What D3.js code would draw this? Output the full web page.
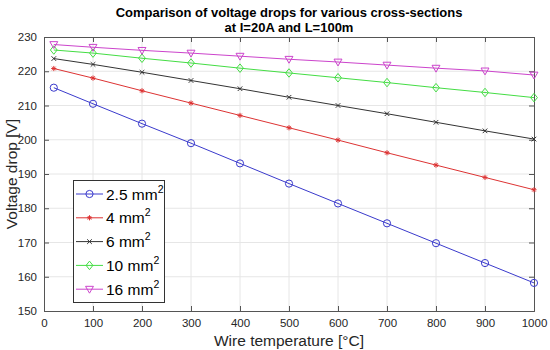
<!DOCTYPE html>
<html><head><meta charset="utf-8">
<script src="https://cdn.jsdelivr.net/npm/d3@7"></script>
<style>body{margin:0;background:#fff}svg{display:block;font-family:"Liberation Sans",Arial,sans-serif}</style>
</head><body><svg id="c" width="550" height="350"></svg>
<script>
const temps = [20,100,200,300,400,500,600,700,800,900,1000];
const s25  = [215.2,210.5,204.7,199.0,193.1,187.2,181.4,175.6,169.8,164.0,158.2];
const s4   = [220.8,218.0,214.3,210.7,207.1,203.5,199.9,196.2,192.6,189.0,185.4];
const s6   = [223.7,222.0,219.7,217.3,214.9,212.4,210.0,207.6,205.1,202.6,200.2];
const s10  = [226.2,225.3,223.8,222.4,220.9,219.5,218.1,216.7,215.2,213.8,212.3];
const s16  = [227.8,227.0,226.1,225.3,224.4,223.5,222.7,221.8,220.9,220.1,218.9];
const seriesNames = ["2.5","4","6","10","16"];
const xTicks = [0,100,200,300,400,500,600,700,800,900,1000];
const yTicks = [150,160,170,180,190,200,210,220,230];
const titleLines = ["Comparison of voltage drops for various cross-sections","at I=20A and L=100m"];

const series = [
  {name:seriesNames[0], vals:s25, color:"#3a3acc", marker:"circle"},
  {name:seriesNames[1], vals:s4,  color:"#dd3333", marker:"star"},
  {name:seriesNames[2], vals:s6,  color:"#333333", marker:"x"},
  {name:seriesNames[3], vals:s10, color:"#44dd44", marker:"diamond"},
  {name:seriesNames[4], vals:s16, color:"#cc44cc", marker:"tri"}
];

const svg = d3.select("#c");
const L=44,R=534,T=37,B=311;
const x = d3.scaleLinear().domain([0,1000]).range([L,R]);
const y = d3.scaleLinear().domain([150,230]).range([B,T]);

// grid
svg.append("g").selectAll("line").data(xTicks.slice(1,-1)).join("line")
  .attr("x1",d=>x(d)).attr("x2",d=>x(d)).attr("y1",T).attr("y2",B)
  .attr("stroke","#e6e6e6").attr("stroke-width",1);
svg.append("g").selectAll("line").data(yTicks.slice(1,-1)).join("line")
  .attr("y1",d=>y(d)).attr("y2",d=>y(d)).attr("x1",L).attr("x2",R)
  .attr("stroke","#e6e6e6").attr("stroke-width",1);

// axes
const axColor="#555";
const fmt = d3.format("d");
const xa = svg.append("g").attr("transform",`translate(0,${B})`)
  .call(d3.axisBottom(x).tickValues(xTicks).tickSize(-5).tickPadding(8).tickFormat(fmt));
const xt = svg.append("g").attr("transform",`translate(0,${T})`)
  .call(d3.axisTop(x).tickValues(xTicks).tickSize(-5).tickFormat(""));
const ya = svg.append("g").attr("transform",`translate(${L},0)`)
  .call(d3.axisLeft(y).tickValues(yTicks).tickSize(-5).tickPadding(7).tickFormat(fmt));
const yr = svg.append("g").attr("transform",`translate(${R},0)`)
  .call(d3.axisRight(y).tickValues(yTicks).tickSize(-5).tickFormat(""));
[xa,xt,ya,yr].forEach(g=>{
  g.select(".domain").attr("stroke",axColor);
  g.selectAll(".tick line").attr("stroke",axColor);
  g.selectAll(".tick text").attr("fill","#262626").attr("font-size",11.5)
   .attr("font-family","Liberation Sans, Arial, sans-serif");
});

function markerPath(type, s){
  switch(type){
    case "circle": return d3.symbol().type(d3.symbolCircle).size(Math.PI*s*s)();
    case "x": return `M${-s},${-s}L${s},${s}M${-s},${s}L${s},${-s}`;
    case "star": {const a=s*0.7;return `M${-s},0L${s},0M0,${-s}L0,${s}M${-a},${-a}L${a},${a}M${-a},${a}L${a},${-a}`;}
    case "diamond": return `M0,${-s*1.25}L${s},0L0,${s*1.25}L${-s},0Z`;
    case "tri": return `M${-s*1.1},${-s*0.8}L${s*1.1},${-s*0.8}L0,${s*1.1}Z`;
  }
}
const msize = {circle:3.6,x:2.3,star:2.6,diamond:3.4,tri:3.6};

const line = d3.line().x((d,i)=>x(temps[i])).y(d=>y(d));
series.forEach(sr=>{
  const g = svg.append("g");
  g.append("path").attr("d",line(sr.vals)).attr("fill","none")
    .attr("stroke",sr.color).attr("stroke-width",1);
  g.selectAll("path.m").data(sr.vals).join("path").attr("class","m")
    .attr("transform",(d,i)=>`translate(${x(temps[i])},${y(d)})`)
    .attr("d",markerPath(sr.marker,msize[sr.marker]))
    .attr("fill","none").attr("stroke",sr.color).attr("stroke-width",1);
});

// legend
const lg = svg.append("g");
lg.append("rect").attr("x",73.5).attr("y",180.5).attr("width",91).attr("height",122)
  .attr("fill","#fff").attr("stroke","#333").attr("stroke-width",1);
series.forEach((sr,i)=>{
  const yy = 194 + i*23.8;
  lg.append("line").attr("x1",76).attr("x2",103).attr("y1",yy).attr("y2",yy)
    .attr("stroke",sr.color).attr("stroke-width",1);
  lg.append("path").attr("transform",`translate(89.5,${yy})`)
    .attr("d",markerPath(sr.marker,msize[sr.marker]))
    .attr("fill","none").attr("stroke",sr.color).attr("stroke-width",1);
  const t = lg.append("text").attr("x",106).attr("y",yy+5.5)
    .attr("font-size",15.5).attr("fill","#000");
  t.append("tspan").text(sr.name+" mm");
  t.append("tspan").attr("font-size",10.5).attr("dy",-7).text("2");
});

// title
svg.append("g").selectAll("text").data(titleLines).join("text")
  .attr("x",(L+R)/2).attr("y",(d,i)=>17+i*15).attr("text-anchor","middle")
  .attr("font-size",13).attr("font-weight","bold").attr("fill","#000").text(d=>d);

// axis labels
svg.append("text").attr("x",(L+R)/2).attr("y",346).attr("text-anchor","middle")
  .attr("font-size",15.5).attr("fill","#262626").text("Wire temperature [°C]");
svg.append("text").attr("transform",`translate(17,${(T+B)/2}) rotate(-90)`)
  .attr("text-anchor","middle").attr("font-size",15.5).attr("fill","#262626").text("Voltage drop [V]");
</script></body></html>
